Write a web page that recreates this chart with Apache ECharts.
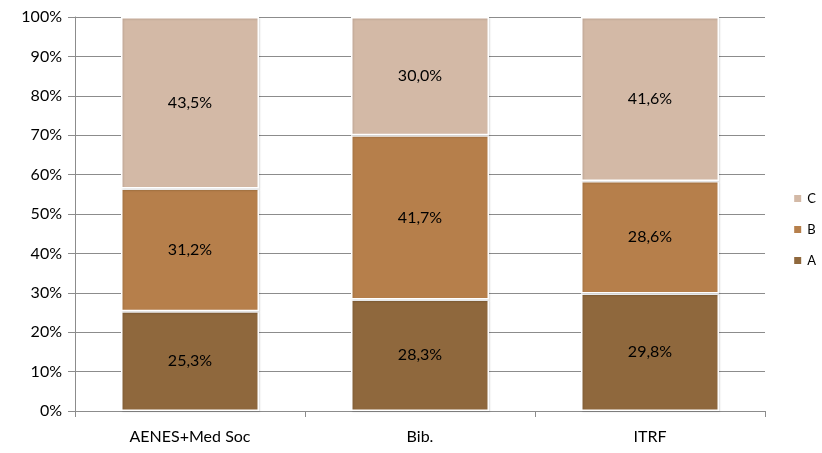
<!DOCTYPE html>
<html lang="en">
<head>
  <meta charset="UTF-8">
  <title>stacked-100</title>
  <script src="https://cdn.jsdelivr.net/npm/echarts@6/dist/echarts.min.js"></script>
  <style>
    html, body {
      margin: 0;
      padding: 0;
      background: #fff;
    }

    #chart-main {
      width: 822px;
      height: 453px;
    }
  </style>
</head>
<body>
<div id="chart-main"></div>

<script type="text/javascript">
  const categories = ['AENES+Med Soc', 'Bib.', 'ITRF']
  const seriesA = [25.3, 28.3, 29.8]
  const seriesB = [31.2, 41.7, 28.6]
  const seriesC = [43.5, 30.0, 41.6]

  let echartItem = echarts.init(document.getElementById('chart-main'))

  const fontFamily = 'Lato, "Open Sans", sans-serif'

  function makeSeries (name, data, color) {
    return {
      name: name,
      type: 'bar',
      stack: 'total',
      data: data,
      barWidth: '60%',
      itemStyle: {
        color: color,
        borderColor: '#ffffff',
        borderWidth: 1.5,
        shadowColor: 'rgba(0,0,0,0.12)',
        shadowBlur: 2,
        shadowOffsetX: 1,
        shadowOffsetY: 1
      },
      label: {
        show: true,
        position: 'inside',
        color: '#000',
        fontSize: 16,
        fontFamily: fontFamily,
        formatter: function (p) {
          return p.value.toFixed(1).replace('.', ',') + '%'
        }
      }
    }
  }

  let option = {
    animation: false,
    textStyle: {fontFamily: fontFamily},
    grid: {
      left: 75,
      right: 57,
      top: 17,
      bottom: 42
    },
    legend: {
      orient: 'vertical',
      right: 1,
      top: 187,
      itemWidth: 9,
      itemHeight: 9,
      itemGap: 18,
      icon: 'rect',
      data: ['C', 'B', 'A'],
      textStyle: {
        fontSize: 13,
        color: '#000',
        fontFamily: fontFamily
      }
    },
    xAxis: {
      type: 'category',
      data: categories,
      axisLine: {lineStyle: {color: '#8c8c8c'}},
      axisTick: {
        show: true,
        length: 6,
        lineStyle: {color: '#8c8c8c'}
      },
      axisLabel: {
        color: '#000',
        fontSize: 16,
        margin: 18,
        fontFamily: fontFamily
      }
    },
    yAxis: {
      type: 'value',
      min: 0,
      max: 100,
      interval: 10,
      axisLine: {show: true, lineStyle: {color: '#8c8c8c'}},
      axisTick: {
        show: true,
        length: 7,
        lineStyle: {color: '#8c8c8c'}
      },
      splitLine: {lineStyle: {color: '#8c8c8c'}},
      axisLabel: {
        color: '#000',
        fontSize: 16,
        margin: 13,
        fontFamily: fontFamily,
        formatter: '{value}%'
      }
    },
    series: [
      makeSeries('A', seriesA, '#8f683d'),
      makeSeries('B', seriesB, '#b67f4b'),
      makeSeries('C', seriesC, '#d3b9a6')
    ]
  }

  echartItem.setOption(option)
</script>
</body>
</html>
